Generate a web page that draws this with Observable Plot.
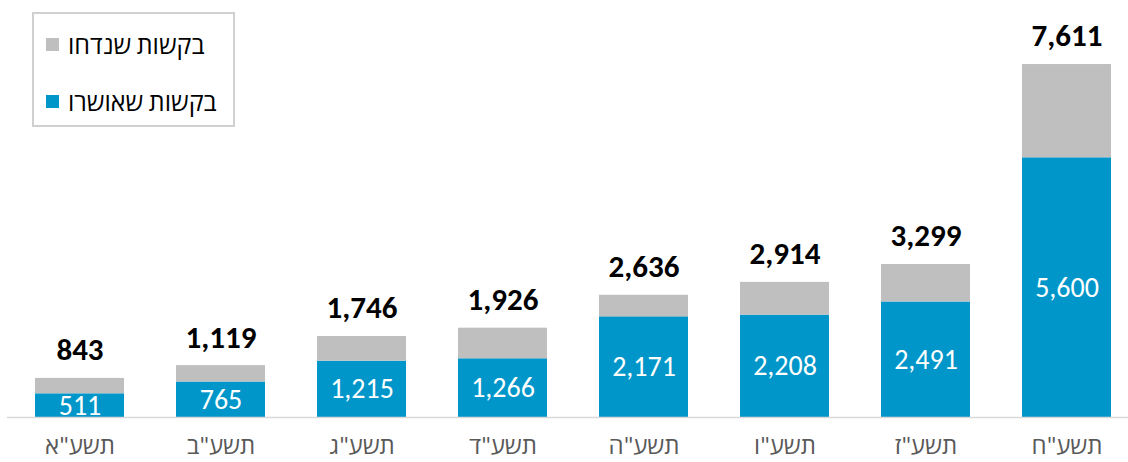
<!DOCTYPE html>
<html><head><meta charset="utf-8">
<script src="https://cdn.jsdelivr.net/npm/d3@7"></script>
<script src="https://cdn.jsdelivr.net/npm/@observablehq/plot@0.6"></script>
<style>
body{margin:0;background:#fff;font-family:Calibri,Carlito,Lato,"Open Sans",sans-serif;}
#wrap{position:relative;width:1128px;height:462px;}
#legend{position:absolute;left:32px;top:12px;width:203px;height:115px;border:2px solid #d0d0d0;background:#fff;box-sizing:border-box;}
.li{position:absolute;left:12px;display:flex;align-items:center;font-size:25px;color:#000;direction:ltr;white-space:nowrap;}
.sw{width:13px;height:13px;margin-right:9px;}
</style></head><body>
<div id="wrap"><div id="chart"></div><div id="legend"></div></div>
<script>
const years = ['תשע"א','תשע"ב','תשע"ג','תשע"ד','תשע"ה','תשע"ו','תשע"ז','תשע"ח'];
const approved = [511, 765, 1215, 1266, 2171, 2208, 2491, 5600];
const totals = [843, 1119, 1746, 1926, 2636, 2914, 3299, 7611];
const seriesNames = ["בקשות שאושרו", "בקשות שנדחו"];
const seriesColors = ["#0096C9", "#BFBFBF"];

const rows = [];
years.forEach((y, i) => {
  rows.push({year: y, series: seriesNames[0], value: approved[i], order: 0});
  rows.push({year: y, series: seriesNames[1], value: totals[i] - approved[i], order: 1});
});
const approvedRows = years.map((y, i) => ({year: y, value: approved[i]}));
const totalRows = years.map((y, i) => ({year: y, value: totals[i]}));
const fmt = d3.format(",");

const chart = Plot.plot({
  width: 1128, height: 462,
  marginTop: 46, marginBottom: 45, marginLeft: 7, marginRight: 0,
  style: {fontFamily: "Calibri, Carlito, Lato, 'Open Sans', sans-serif", background: "#fff"},
  x: {domain: years, paddingInner: 0.37, paddingOuter: 0.15, align: 0.63, label: null, tickSize: 0},
  y: {domain: [0, 8000], axis: null},
  color: {domain: seriesNames, range: seriesColors},
  marks: [
    Plot.barY(rows, {x: "year", y: "value", fill: "series", order: (d) => d.order}),
    Plot.ruleY([0], {stroke: "#d9d9d9", strokeWidth: 1.5}),
    Plot.text(approvedRows, {x: "year", y: (d) => d.value / 2, text: (d) => fmt(d.value), fill: "#fff", fontSize: 28}),
    Plot.text(totalRows, {x: "year", y: "value", text: (d) => fmt(d.value), dy: -28, fill: "#000", fontSize: 31, fontWeight: "bold"}),
    Plot.axisX({tickSize: 0, tickPadding: 19, fontSize: 24, fill: "#595959", label: null})
  ]
});
document.getElementById("chart").appendChild(chart);

const legend = document.getElementById("legend");
[[1, 30], [0, 87]].forEach(([k, center]) => {
  const d = document.createElement("div");
  d.className = "li"; d.style.top = (center - 16) + "px"; d.style.height = "32px";
  d.innerHTML = `<span class="sw" style="background:${seriesColors[k]}"></span><span dir="rtl">${seriesNames[k]}</span>`;
  legend.appendChild(d);
});
</script></body></html>
